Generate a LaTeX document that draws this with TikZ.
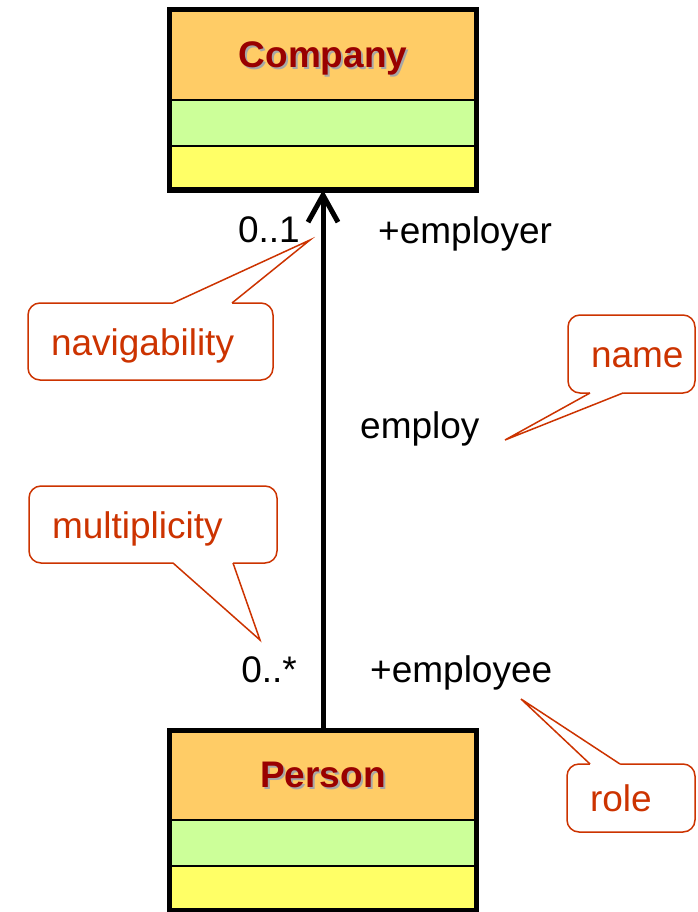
\documentclass[tikz,border=0pt]{standalone}
\usepackage{fontspec}
\setmainfont{Liberation Sans}
\usetikzlibrary{calc, positioning, arrows.meta}

\definecolor{classorange}{HTML}{FFCC66}
\definecolor{classgreen}{HTML}{CCFF99}
\definecolor{classyellow}{HTML}{FFFF66}
\definecolor{classred}{HTML}{990000}
\definecolor{notered}{HTML}{CC3300}

\newcommand{\classname}[1]{\makebox[0pt][l]{\hspace{2pt}\raisebox{-2pt}{\textcolor{black!35}{#1}}}\textcolor{classred}{#1}}

\begin{document}
\begin{tikzpicture}[x=1pt, y=-1pt,
  font=\fontsize{37pt}{44pt}\selectfont,
  compartment/.style={draw, line width=2pt, minimum width=307pt, inner sep=0pt, outer sep=0pt},
  classtitle/.style={compartment, fill=classorange, minimum height=90pt, text depth=0pt, font=\fontsize{37pt}{44pt}\selectfont\bfseries},
  classattr/.style={compartment, fill=classgreen, minimum height=46pt},
  classops/.style={compartment, fill=classyellow, minimum height=44pt},
  classborder/.style={draw, line width=5pt},
  assoc/.style={line width=5pt, -{Straight Barb[length=27pt, width=30pt]}},
  lbl/.style={inner sep=0pt},
  note/.style={draw=notered, line width=1.5pt, fill=white, rounded corners=12pt, text=notered,
    align=left, text width=#1, inner xsep=11pt, inner ysep=0pt, outer sep=0pt,
    text height=27pt, text depth=0pt, execute at begin node=\hspace*{12pt}},
  pointer/.style={draw=notered, line width=1.5pt}
]
\useasboundingbox (0,0) rectangle (697,912);

% Class boxes
\node[classtitle] (company) at (323,55) {\classname{Company}};
\node[classattr, below=0pt of company] (companyattr) {};
\node[classops, below=0pt of companyattr] (companyops) {};
\draw[classborder] (company.north west) rectangle (companyops.south east);

\node[classtitle] (person) at (323,775) {\classname{Person}};
\node[classattr, below=0pt of person] (personattr) {};
\node[classops, below=0pt of personattr] (personops) {};
\draw[classborder] (person.north west) rectangle (personops.south east);

% Association
\draw[assoc] (person.north) -- (companyops.south);

% Association ends
\node[lbl, anchor=base east] (companymult) at (300,242) {0..1};
\node[lbl, anchor=base west] (employerrole) at (378,243) {+employer};
\node[lbl, anchor=base west] (assocname) at (360,438) {employ};
\node[lbl, anchor=base east] (personmult) at (297,682) {0..*};
\node[lbl, anchor=base west] (employeerole) at (370,682) {+employee};

% Annotations
\node[note=223pt, minimum height=77pt] (navnote) at (150.5,341.5) {navigability};
\node[note=105pt, minimum height=78pt] (namenote) at (631.5,354) {name};
\node[note=226pt, minimum height=77pt] (multnote) at (153,524.5) {multiplicity};
\node[note=106pt, minimum height=68pt] (rolenote) at (631,798) {role};

\coordinate (navtip) at (310,240);
\coordinate (nametip) at (505,440);
\coordinate (multtip) at (260,640);
\coordinate (roletip) at (521,699);

% Callout pointers
\fill[white] ($(navnote.north west)+(145,0)$) -- (navtip) -- ($(navnote.north west)+(204,0)$) -- ($(navnote.north west)+(204,3)$) -- ($(navnote.north west)+(145,3)$) -- cycle;
\draw[pointer] ($(navnote.north west)+(145,0)$) -- (navtip) -- ($(navnote.north west)+(204,0)$);

\fill[white] ($(namenote.south west)+(22,0)$) -- (nametip) -- ($(namenote.south west)+(55,0)$) -- ($(namenote.south west)+(55,-3)$) -- ($(namenote.south west)+(22,-3)$) -- cycle;
\draw[pointer] ($(namenote.south west)+(22,0)$) -- (nametip) -- ($(namenote.south west)+(55,0)$);

\fill[white] ($(multnote.south west)+(144,0)$) -- (multtip) -- ($(multnote.south west)+(204,0)$) -- ($(multnote.south west)+(204,-3)$) -- ($(multnote.south west)+(144,-3)$) -- cycle;
\draw[pointer] ($(multnote.south west)+(144,0)$) -- (multtip) -- ($(multnote.south west)+(204,0)$);

\fill[white] ($(rolenote.north west)+(23,0)$) -- (roletip) -- ($(rolenote.north west)+(53,0)$) -- ($(rolenote.north west)+(53,3)$) -- ($(rolenote.north west)+(23,3)$) -- cycle;
\draw[pointer] ($(rolenote.north west)+(23,0)$) -- (roletip) -- ($(rolenote.north west)+(53,0)$);
\end{tikzpicture}
\end{document}
